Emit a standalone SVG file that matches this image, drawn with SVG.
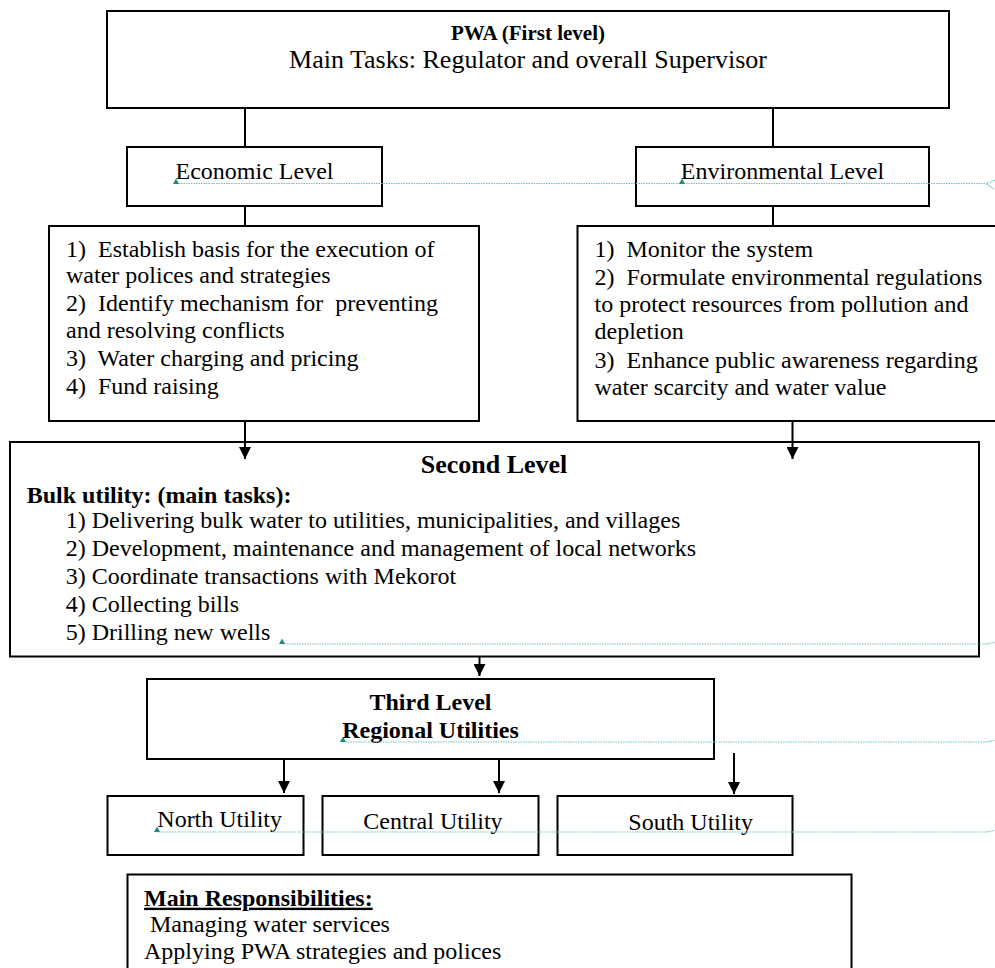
<svg xmlns="http://www.w3.org/2000/svg" width="995" height="968" viewBox="0 0 995 968">
<style>
.box{fill:#fff;stroke:#000;stroke-width:2}
.t{font-family:"Liberation Serif","Times New Roman",serif;font-size:24px;fill:#000;white-space:pre}
.b{font-weight:bold}
.c{text-anchor:middle}
.con{stroke:#000;stroke-width:2;fill:none}
.tl{stroke:#6cc3bf;stroke-width:1.2;stroke-dasharray:1.5 1;fill:none}
.tm{fill:#1e8a80}
</style>
<defs>
<marker id="ah" markerUnits="userSpaceOnUse" markerWidth="12" markerHeight="12" refX="12" refY="6" orient="auto">
<path d="M0,0 L12,6 L0,12 z" fill="#000"/>
</marker>
</defs>
<rect width="995" height="968" fill="#fff"/>

<g id="pwa">
<rect class="box" x="107" y="11" width="842" height="97"/>
<text class="t b c" x="528" y="40" style="font-size:21px">PWA (First level)</text>
<text class="t c" x="528" y="68" style="font-size:26px">Main Tasks: Regulator and overall Supervisor</text>
</g>

<g id="economic-level">
<rect class="box" x="127" y="147" width="255" height="59"/>
<text class="t c" x="254.5" y="179">Economic Level</text>
</g>

<g id="environmental-level">
<rect class="box" x="636" y="147" width="293" height="59"/>
<text class="t c" x="782.5" y="179">Environmental Level</text>
</g>

<g id="economic-tasks">
<rect class="box" x="49" y="226" width="430" height="195"/>
<text class="t" x="66" y="256.7">1)  Establish basis for the execution of</text>
<text class="t" x="66" y="283.3">water polices and strategies</text>
<text class="t" x="66" y="311">2)  Identify mechanism for  preventing</text>
<text class="t" x="66" y="337.7">and resolving conflicts</text>
<text class="t" x="66" y="366">3)  Water charging and pricing</text>
<text class="t" x="66" y="394">4)  Fund raising</text>
</g>

<g id="environmental-tasks">
<rect class="box" x="577.5" y="226" width="430" height="195"/>
<text class="t" x="594.5" y="256.7">1)  Monitor the system</text>
<text class="t" x="594.5" y="285">2)  Formulate environmental regulations</text>
<text class="t" x="594.5" y="311.7">to protect resources from pollution and</text>
<text class="t" x="594.5" y="339.3">depletion</text>
<text class="t" x="594.5" y="368.3">3)  Enhance public awareness regarding</text>
<text class="t" x="594.5" y="395">water scarcity and water value</text>
</g>

<g id="second-level">
<rect class="box" x="10" y="442" width="969" height="214.5"/>
<text class="t b c" x="494" y="473" style="font-size:26px">Second Level</text>
<text class="t b" x="26.7" y="503.3">Bulk utility: (main tasks):</text>
<text class="t" x="65.7" y="528.3">1) Delivering bulk water to utilities, municipalities, and villages</text>
<text class="t" x="65.7" y="556.3">2) Development, maintenance and management of local networks</text>
<text class="t" x="65.7" y="583.5">3) Coordinate transactions with Mekorot</text>
<text class="t" x="65.7" y="611.7">4) Collecting bills</text>
<text class="t" x="65.7" y="640">5) Drilling new wells</text>
</g>

<g id="third-level">
<rect class="box" x="147" y="679" width="567" height="80"/>
<text class="t b c" x="430.5" y="710">Third Level</text>
<text class="t b c" x="430.5" y="738.3">Regional Utilities</text>
</g>

<g id="north-utility">
<rect class="box" x="107.5" y="796" width="196" height="59"/>
<text class="t" x="157.3" y="826.7">North Utility</text>
</g>

<g id="central-utility">
<rect class="box" x="322.5" y="796" width="216" height="59"/>
<text class="t" x="363.3" y="829.3">Central Utility</text>
</g>

<g id="south-utility">
<rect class="box" x="557.5" y="796" width="235" height="59"/>
<text class="t" x="628.3" y="829.8">South Utility</text>
</g>

<g id="main-responsibilities">
<rect class="box" x="127.5" y="874.5" width="724" height="110"/>
<text class="t b" x="144" y="905.7" text-decoration="underline">Main Responsibilities:</text>
<text class="t" x="144" y="931.7"> Managing water services</text>
<text class="t" x="144" y="959">Applying PWA strategies and polices</text>
</g>

<g id="connectors">
<line class="con" x1="245" y1="108" x2="245" y2="147"/>
<line class="con" x1="773" y1="108" x2="773" y2="147"/>
<line class="con" x1="245" y1="206" x2="245" y2="226"/>
<line class="con" x1="773" y1="206" x2="773" y2="226"/>
<line class="con" x1="245" y1="421" x2="245" y2="459" marker-end="url(#ah)"/>
<line class="con" x1="792.5" y1="421" x2="792.5" y2="459" marker-end="url(#ah)"/>
<line class="con" x1="479.5" y1="656" x2="479.5" y2="676" marker-end="url(#ah)"/>
<line class="con" x1="284" y1="759" x2="284" y2="793" marker-end="url(#ah)"/>
<line class="con" x1="499" y1="759" x2="499" y2="793" marker-end="url(#ah)"/>
<line class="con" x1="734" y1="753" x2="734" y2="794" marker-end="url(#ah)"/>
</g>

<g id="revision-marks">
<path class="tl" d="M176,183.5 H986"/>
<path class="tl" d="M995,180 L986,184 L995,189.5"/>
<path class="tm" d="M173,184 L176,178.5 L179,184 z"/>
<path class="tm" d="M679,184 L682,178.5 L685,184 z"/>
<path class="tl" d="M282,644 H984 Q988,644 995,642"/>
<path class="tm" d="M279,644 L282,638.5 L285,644 z"/>
<path class="tl" d="M343,742 H984 Q988,742 995,740"/>
<path class="tm" d="M340,742 L343,736.5 L346,742 z"/>
<path class="tl" d="M157,832 H984 Q988,832 995,830"/>
<path class="tm" d="M154,832 L157,826.5 L160,832 z"/>
</g>
</svg>
